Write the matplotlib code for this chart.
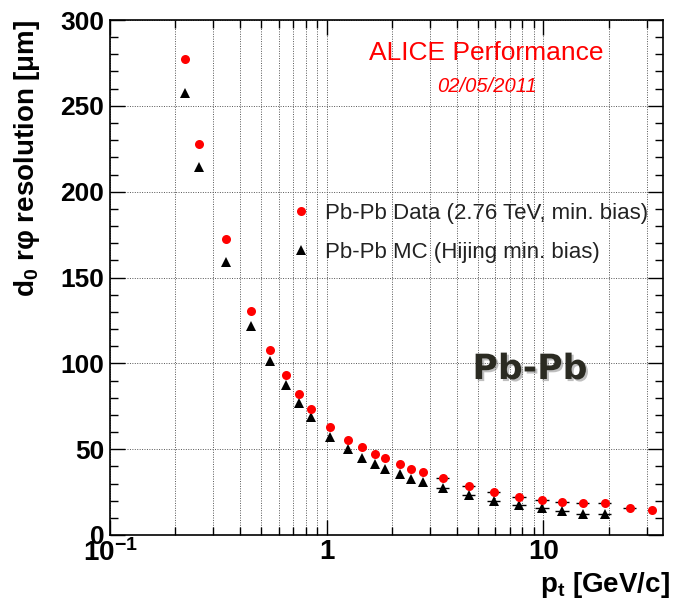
import matplotlib
matplotlib.use("Agg")
import matplotlib.pyplot as plt
from matplotlib.ticker import FixedLocator, FixedFormatter, MultipleLocator, LogLocator, NullFormatter
from matplotlib.lines import Line2D
import matplotlib.patheffects as pe

# Pb-Pb data (2.76 TeV)
pt_data = [0.222, 0.258, 0.343, 0.447, 0.547, 0.649, 0.745, 0.844, 1.04, 1.25, 1.455, 1.675, 1.865,
           2.17, 2.45, 2.77, 3.43, 4.52, 5.90, 7.74, 9.86, 12.2, 15.2, 19.2, 25.0, 31.8]
res_data = [277.2, 227.5, 172.3, 130.6, 107.9, 93.0, 82.4, 73.5, 62.8, 55.5, 51.2, 47.2, 44.7,
            41.2, 38.7, 36.7, 33.1, 28.6, 25.1, 21.9, 20.5, 19.1, 18.4, 18.6, 15.8, 14.5]
pt_err_data = [0, 0, 0, 0, 0, 0, 0, 0, 0, 0, 0, 0, 0,
               0, 0, 0, 0.24, 0.32, 0.42, 0.55, 0.7, 0.87, 1.08, 1.36, 1.8, 0]

# Pb-Pb MC (Hijing)
pt_mc = [0.222, 0.258, 0.343, 0.447, 0.547, 0.649, 0.745, 0.844, 1.04, 1.25, 1.455, 1.675, 1.865,
         2.17, 2.45, 2.77, 3.43, 4.52, 5.90, 7.74, 9.86, 12.2, 15.2, 19.2]
res_mc = [257.5, 214.3, 158.8, 122.0, 101.5, 87.2, 77.0, 68.9, 57.3, 49.9, 45.1, 41.2, 38.7,
          35.4, 32.9, 30.6, 27.1, 23.4, 19.9, 17.4, 15.5, 14.1, 12.2, 12.4]
pt_err_mc = [0, 0, 0, 0, 0, 0, 0, 0, 0, 0, 0, 0, 0,
             0, 0, 0, 0.24, 0.32, 0.42, 0.55, 0.7, 0.87, 1.08, 1.36]

labels = ['Pb-Pb Data (2.76 TeV, min. bias)', 'Pb-Pb MC (Hijing min. bias)']
xtick_vals = [0.1, 1, 10]
xtick_labels = [r'$\mathregular{10^{-1}}$', '1', '10']

plt.rcParams['font.family'] = ['Liberation Sans', 'DejaVu Sans']
plt.rcParams['mathtext.fontset'] = 'custom'
plt.rcParams['mathtext.rm'] = 'Liberation Sans:bold'
plt.rcParams['mathtext.bf'] = 'Liberation Sans:bold'
plt.rcParams['mathtext.it'] = 'Liberation Sans:bold'

fig = plt.figure(figsize=(6.74, 6.08), dpi=100)
ax = fig.add_axes([110/674, 1 - 535/608, 553/674, 515/608])

ax.errorbar(pt_data, res_data, xerr=pt_err_data, fmt='o', color='red', ms=6.5, mew=0,
            ecolor='black', elinewidth=1, capsize=2.5, zorder=4)
ax.errorbar(pt_mc, res_mc, xerr=pt_err_mc, fmt='^', color='black', ms=6.5, mew=0,
            ecolor='black', elinewidth=1, capsize=2.5, zorder=3)

ax.set_xscale('log')
ax.set_xlim(0.1, 35.6)
ax.set_ylim(0, 300)

ax.xaxis.set_major_locator(FixedLocator(xtick_vals))
ax.xaxis.set_major_formatter(FixedFormatter(xtick_labels))
ax.xaxis.set_minor_locator(LogLocator(base=10, subs=[2, 3, 4, 5, 6, 7, 8, 9]))
ax.xaxis.set_minor_formatter(NullFormatter())
ax.yaxis.set_major_locator(MultipleLocator(50))
ax.yaxis.set_minor_locator(MultipleLocator(10))

ax.grid(which='both', axis='x', color='#555555', linestyle=(0, (1, 1.5)), linewidth=0.7)
ax.grid(which='major', axis='y', color='#555555', linestyle=(0, (1, 1.5)), linewidth=0.7)
ax.set_axisbelow(True)

ax.tick_params(which='both', direction='in', top=True, right=True, width=1)
ax.tick_params(which='major', length=11)
ax.tick_params(which='minor', length=5.5)
ax.tick_params(axis='y', labelsize=19, pad=4)
ax.tick_params(axis='x', labelsize=20, pad=3)
for lab in ax.get_yticklabels() + ax.get_xticklabels():
    lab.set_fontweight('bold')
for sp in ax.spines.values():
    sp.set_linewidth(1.2)

fig.text(27/674, 1 - 20/608, 'd$_0$ r\u03c6 resolution [\u03bcm]', rotation=90,
         ha='center', va='top', fontsize=20, fontweight='bold')
fig.text(670/674, 1 - 592/608, 'p$_t$ [GeV/c]', ha='right', va='baseline',
         fontsize=20, fontweight='bold')

fig.text(486/674, 1 - 53/608, 'ALICE Performance', color='red', fontsize=19,
         ha='center', va='center')
fig.text(487/674, 1 - 86/608, '02/05/2011', color='red', fontsize=14.5, style='italic',
         ha='center', va='center')

fig.text(530/674, 1 - 369/608, 'Pb-Pb', family='DejaVu Sans', fontweight='bold', fontsize=25,
         color='#2b2b22', ha='center', va='center',
         path_effects=[pe.withSimplePatchShadow(offset=(1.5, -1.5), shadow_rgbFace='gray', alpha=0.5)])

handles = [Line2D([], [], marker='o', color='red', ls='none', ms=6.5, mew=0),
           Line2D([], [], marker='^', color='black', ls='none', ms=6.5, mew=0)]
leg = ax.legend(handles, labels, loc='upper left', bbox_to_anchor=(292/674, 1 - 203/608),
                bbox_transform=fig.transFigure, frameon=False, fontsize=16, handlelength=0.8,
                handletextpad=0.7, labelspacing=0.8, borderpad=0, borderaxespad=0)
for t in leg.get_texts():
    t.set_color('#222222')

fig.savefig('out.png', dpi=100)
